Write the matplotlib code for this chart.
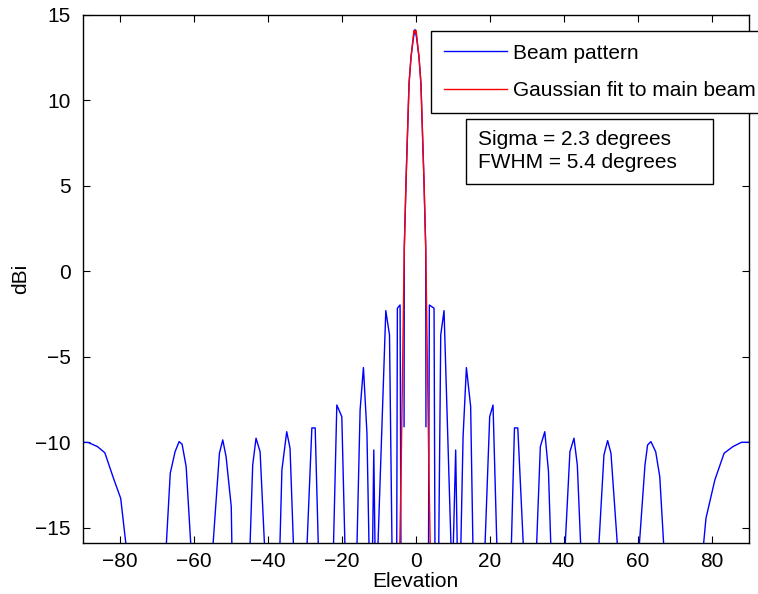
import numpy as np
import matplotlib
matplotlib.use("Agg")
import matplotlib.pyplot as plt
from matplotlib.patches import Rectangle

plt.rcParams["font.family"] = ["Liberation Sans", "DejaVu Sans"]
plt.rcParams["font.size"] = 15

nan = np.nan

# Beam pattern (dBi) vs elevation (deg); nulls fall below the plotted range
beam_elev = [
    -90, -88.6, -86.1, -84.1, -81.6, -79.8, -78.1,
    -67.6, -66.4, -65.1, -64.0, -63.2, -62.1, -60.7,
    -55.0, -53.1, -52.2, -51.3, -49.9, -49.7,
    -44.9, -44.1, -43.2, -42.1, -40.8,
    -36.8, -36.2, -34.9, -34.0, -33.0,
    -29.5, -28.1, -27.2, -26.3,
    -22.3, -21.35, -20.0, -19.1,
    -15.95, -15.05, -14.15, -13.2, -12.6,
    -11.7, -11.35, -11.0,
    -10.3, -8.1, -7.1, -6.4,
    -5.15, -4.97, -4.24, -4.0,
    nan,
    -3.16, -3.1, -2.62, -1.81, -1.27, -0.6, -0.2, 0.2, 0.87, 1.4, 2.22, 2.7, 2.76,
    nan,
    3.45, 3.68, 4.95, 5.2,
    6.2, 6.76, 7.65, 9.6,
    10.1, 10.8, 11.25,
    12.15, 12.8, 13.7, 14.85, 15.5,
    18.65, 20.0, 20.9, 22.0,
    25.8, 26.7, 27.6, 29.2,
    32.6, 33.7, 34.9, 35.9, 36.6,
    40.3, 41.7, 42.8, 43.7, 44.7,
    49.4, 50.9, 51.9, 52.8, 54.7,
    60.3, 62.0, 62.7, 63.6, 64.9, 66.0, 67.2,
    77.6, 78.5, 80.9, 83.4, 85.8, 88.1, 90,
]
beam_dbi = [
    -9.99, -10.0, -10.24, -10.6, -12.19, -13.27, -16.5,
    -16.5, -11.8, -10.54, -9.95, -10.1, -11.41, -16.5,
    -16.5, -10.63, -9.85, -10.83, -13.75, -16.5,
    -16.5, -11.32, -9.75, -10.54, -16.5,
    -16.5, -11.6, -9.37, -10.34, -16.5,
    -16.5, -9.15, -9.15, -16.5,
    -16.5, -7.81, -8.49, -16.5,
    -16.5, -8.1, -5.62, -9.46, -16.5,
    -16.5, -10.44, -16.5,
    -16.5, -2.29, -3.71, -16.5,
    -16.5, -2.15, -1.96, -16.5,
    nan,
    -9.07, 1.36, 5.35, 11.0, 12.56, 13.7, 14.15, 13.7, 12.56, 11.0, 5.35, 1.36, -9.07,
    nan,
    -16.5, -1.96, -2.15, -16.5,
    -16.5, -3.71, -2.29, -16.5,
    -16.5, -10.44, -16.5,
    -16.5, -9.66, -5.62, -7.9, -16.5,
    -16.5, -8.49, -7.81, -16.5,
    -16.5, -9.15, -9.15, -16.5,
    -16.5, -10.24, -9.37, -11.7, -16.5,
    -16.5, -10.54, -9.75, -11.32, -16.5,
    -16.5, -10.73, -9.89, -10.63, -16.5,
    -16.5, -11.32, -10.15, -9.95, -10.54, -12.0, -16.5,
    -16.5, -14.43, -12.19, -10.63, -10.24, -9.99, -9.99,
]

# Gaussian fit to the main beam
fit_elev = [-4.35, -4.0, -3.75, -3.1, -2.62, -1.81, -1.27, -0.5, -0.2, 0.1,
            0.87, 1.4, 2.22, 2.7, 3.35, 3.6, 3.95]
fit_dbi = [-16.5, -12.2, -8.5, 1.36, 5.35, 11.0, 12.56, 14.1, 13.95, 14.1,
           12.56, 11.0, 5.35, 1.36, -8.5, -12.2, -16.5]

sigma_deg = 2.3
fwhm_deg = 5.4

W, H = 758, 594
fig = plt.figure(figsize=(W / 100, H / 100), dpi=100)
ax = fig.add_axes([83 / W, 1 - 542.5 / H, 665.5 / W, 527.5 / H])

ax.plot(beam_elev, beam_dbi, color="blue", lw=1.0, label="Beam pattern")
ax.plot(fit_elev, fit_dbi, color="red", lw=1.0, label="Gaussian fit to main beam")

ax.set_xlim(-90, 90)
ax.set_ylim(-15.85, 15)
ax.set_xticks(np.arange(-80, 81, 20))
ax.set_yticks(np.arange(-15, 16, 5))
ax.tick_params(direction="in", top=True, right=True, length=5, width=0.8)
ax.tick_params(axis="x", pad=7)
ax.tick_params(axis="y", pad=9)
for s in ax.spines.values():
    s.set_linewidth(1.0)

ax.set_xlabel("Elevation")
ax.set_ylabel("dBi")
ax.xaxis.set_label_coords(0.5, -0.056)
ax.yaxis.set_label_coords(-0.08, 0.5)

leg = ax.legend(loc="upper left", bbox_to_anchor=(430.7 / W, 1 - 30.7 / H),
                bbox_transform=fig.transFigure, fancybox=False, framealpha=1,
                edgecolor="black", borderpad=0.62, labelspacing=0.88,
                handlelength=3.02, handletextpad=0.32, borderaxespad=0)
leg.get_frame().set_linewidth(1.0)

# annotation box with fit results
fig.patches.append(Rectangle((466 / W, 1 - 184 / H), 247.3 / W, 64.7 / H,
                             transform=fig.transFigure, facecolor="white",
                             edgecolor="black", lw=1.0))
fig.text(478.3 / W, 1 - 144.8 / H, f"Sigma = {sigma_deg} degrees", va="baseline")
fig.text(478.3 / W, 1 - 167.5 / H, f"FWHM = {fwhm_deg} degrees", va="baseline")

fig.savefig("out.png", dpi=100)
